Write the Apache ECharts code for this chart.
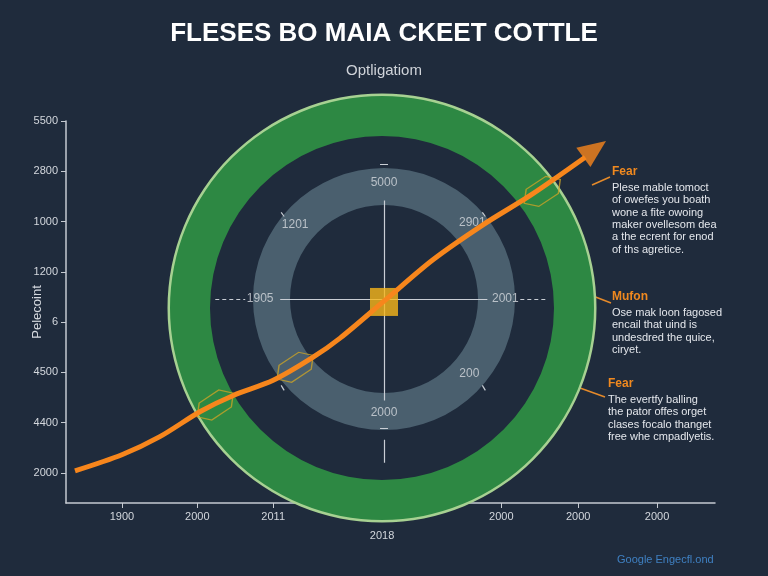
<!DOCTYPE html>
<html>
<head>
<meta charset="utf-8">
<script src="https://cdn.jsdelivr.net/npm/echarts@6.0.0/dist/echarts.min.js"></script>
<style>
  html, body { margin: 0; padding: 0; background: #1f2b3c; }
  #chart { width: 768px; height: 576px; }
</style>
</head>
<body>
<div id="chart"></div>
<script>
// axis ticks + labels
var xTicks = [11.2, 26.3, 41.5, 63.3, 87.2, 102.6, 118.4];
var xLabels = ['1900', '2000', '2011', '2018', '2000', '2000', '2000'];
var yTicks = [3, 8, 13, 18, 23, 28, 33, 38];
var yLabels = ['2000', '4400', '4500', '6', '1200', '1000', '2800', '5500'];

// the orange trend line
var trendData = [
  [1.8, 3.2], [11.2, 4.8], [18.8, 6.6], [26.9, 9.1], [33.5, 10.7], [41.5, 12.2],
  [49.5, 14.5], [54.9, 16.4], [63.5, 20.0], [73.5, 24.2], [83.6, 27.7], [93, 30.6], [104, 34.4]
];
var arrowTip = [105.9, 35.2];
var hexPoints = [[29.9, 9.75], [45.9, 13.5], [95.4, 31.0]];
var centerPoint = [63.7, 20.0];

// labels inside the dial
var dialLabels = [
  { name: '5000', value: [63.7, 31.9] },
  { name: '1201', value: [45.9, 27.7] },
  { name: '2901', value: [81.4, 27.9] },
  { name: '1905', value: [38.9, 20.3] },
  { name: '2001', value: [88.0, 20.3] },
  { name: '200', value: [80.8, 12.9] },
  { name: '2000', value: [63.7, 9.0] }
];
// crosshair pieces
var crossSolid = [
  [[63.7, 30.1], [63.7, 10.2]],
  [[63.7, 6.3], [63.7, 4.0]],
  [[62.9, 33.7], [64.5, 33.7]],
  [[62.9, 7.4], [64.5, 7.4]],
  [[42.9, 20.3], [84.4, 20.3]],
  [[43.1, 28.9], [43.7, 28.5]],
  [[83.4, 28.9], [84.0, 28.5]],
  [[43.1, 11.7], [43.7, 11.2]],
  [[83.4, 11.7], [84.0, 11.2]]
];
var crossDashed = [
  [[29.9, 20.3], [35.9, 20.3]],
  [[91.0, 20.3], [96.6, 20.3]]
];

var notes = [
  { head: 'Fear', x: 612, y: 166, line: [592, 185, 610, 177],
    body: ['Plese mable tomoct', 'of owefes you boath', 'wone a fite owoing', 'maker ovellesom dea', 'a the ecrent for enod', 'of ths agretice.'] },
  { head: 'Mufon', x: 612, y: 291, line: [593, 296, 611, 303],
    body: ['Ose mak loon fagosed', 'encail that uind is', 'undesdred the quice,', 'ciryet.'] },
  { head: 'Fear', x: 608, y: 378, line: [580, 388, 605, 397],
    body: ['The evertfy balling', 'the pator offes orget', 'clases focalo thanget', 'free whe cmpadlyetis.'] }
];

var chart = echarts.init(document.getElementById('chart'));

var graphics = [];
notes.forEach(function (n) {
  graphics.push({
    type: 'line', shape: { x1: n.line[0], y1: n.line[1], x2: n.line[2], y2: n.line[3] },
    style: { stroke: '#e58a2a', lineWidth: 1.5 }
  });
  graphics.push({
    type: 'text', left: n.x, top: n.y,
    style: { text: n.head, fill: '#f0891f', font: 'bold 12px "Liberation Sans"' }
  });
  graphics.push({
    type: 'text', left: n.x, top: n.y + 16,
    style: { text: n.body.join('\n'), fill: '#e4e7ec', font: '11px "Liberation Sans"', lineHeight: 12.3 }
  });
});
graphics.push({
  type: 'text', left: 617, top: 554,
  style: { text: 'Google Engecfl.ond', fill: '#3f80c2', font: '11px "Liberation Sans"' }
});

var ringStyle = { label: { show: false }, labelLine: { show: false }, silent: true, emphasis: { disabled: true } };

var option = {
  backgroundColor: '#1f2b3c',
  animation: false,
  textStyle: { fontFamily: 'Liberation Sans' },
  title: {
    text: 'FLESES BO MAIA CKEET COTTLE',
    subtext: 'Optligatiom',
    left: 'center',
    top: 16,
    itemGap: 16,
    textStyle: { color: '#ffffff', fontSize: 26, fontWeight: 'bold' },
    subtextStyle: { color: '#cfd3d9', fontSize: 15 }
  },
  grid: { left: 66, right: 53, top: 121, bottom: 73 },
  xAxis: {
    type: 'value', min: 0, max: 130,
    splitLine: { show: false },
    axisLine: { lineStyle: { color: '#c5cad1', width: 1.5 } },
    axisTick: { show: true, customValues: xTicks, length: 5, lineStyle: { color: '#c5cad1' } },
    axisLabel: {
      customValues: xTicks, color: '#d3d7dd', fontSize: 11, margin: 4, lineHeight: 19,
      formatter: function (v) {
        var i = xTicks.indexOf(v);
        var t = i >= 0 ? xLabels[i] : '';
        return t === '2018' ? '\n' + t : t;
      }
    }
  },
  yAxis: {
    type: 'value', min: 0, max: 38,
    name: 'Pelecoint', nameLocation: 'middle', nameGap: 22, nameRotate: 90, nameMoveOverlap: false,
    nameTextStyle: { color: '#d5d9df', fontSize: 13 },
    splitLine: { show: false },
    axisLine: { show: true, lineStyle: { color: '#c5cad1', width: 1.5 } },
    axisTick: { show: true, customValues: yTicks, length: 5, lineStyle: { color: '#c5cad1' } },
    axisLabel: {
      customValues: yTicks, color: '#d3d7dd', fontSize: 11, margin: 8,
      formatter: function (v) {
        var i = yTicks.indexOf(v);
        return i >= 0 ? yLabels[i] : '';
      }
    }
  },
  graphic: graphics,
  series: [
    Object.assign({ type: 'pie', center: [382, 308], radius: [172, 213], data: [{ value: 1, itemStyle: { color: '#2d8843' } }] }, ringStyle),
    Object.assign({ type: 'pie', center: [382, 308], radius: [212, 214.5], data: [{ value: 1, itemStyle: { color: '#a7d192' } }] }, ringStyle),
    Object.assign({ type: 'pie', center: [384, 299], radius: [94, 131], data: [{ value: 1, itemStyle: { color: '#4a5f6e' } }] }, ringStyle),
    {
      type: 'lines', coordinateSystem: 'cartesian2d', silent: true, z: 3,
      lineStyle: { color: '#c9ced5', width: 1.2, opacity: 1 },
      data: crossSolid.map(function (c) { return { coords: c }; })
        .concat(crossDashed.map(function (c) { return { coords: c, lineStyle: { type: [4, 3] } }; }))
    },
    {
      type: 'scatter', symbolSize: 0, silent: true, z: 3,
      label: {
        show: true, position: 'inside', color: '#d6dade', fontSize: 12,
        formatter: function (p) { return p.name; }
      },
      data: dialLabels
    },
    {
      type: 'scatter', symbol: 'rect', symbolSize: 28, silent: true, z: 3,
      itemStyle: { color: '#f7b719' },
      data: [centerPoint]
    },
    {
      // hexagon outline already tilted along the trend
      type: 'scatter', silent: true, z: 4,
      symbol: 'path://M0,28.5 L1.9,13.8 L21.5,0 L36,3.3 L34.1,18 L14.5,31.8 Z',
      symbolSize: [36, 30],
      itemStyle: { color: 'rgba(0,0,0,0)', borderColor: '#c9a227', borderWidth: 1.3 },
      data: hexPoints
    },
    {
      type: 'line', smooth: 0.3, showSymbol: false, silent: true, z: 5,
      lineStyle: { color: '#f7861c', width: 5 },
      data: trendData
    },
    {
      type: 'scatter', symbol: 'triangle', symbolSize: [24, 28], symbolRotate: -54, silent: true, z: 5,
      itemStyle: { color: '#f7861c' },
      data: [arrowTip]
    }
  ]
};
chart.setOption(option);
</script>
</body>
</html>
